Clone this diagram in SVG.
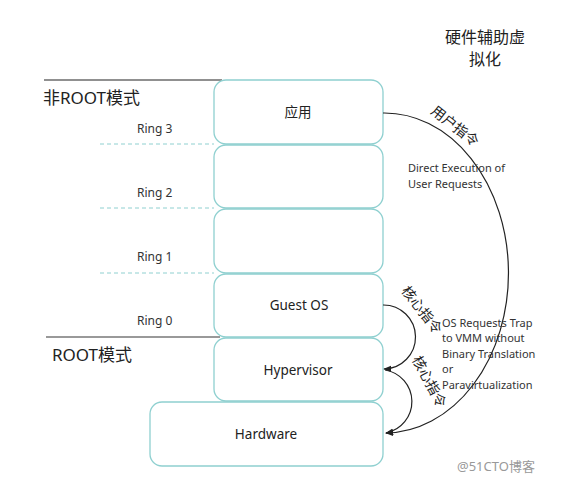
<svg xmlns="http://www.w3.org/2000/svg" width="565" height="484" viewBox="0 0 565 484">
<defs>
<style>
.box{fill:#fff;stroke:#8fd0d0;stroke-width:1.3}
.t{font-family:"Noto Sans","Noto Sans CJK SC",sans-serif;fill:#222}
.ring{font-size:12px;fill:#333}
.mode{font-size:17px}
.lbl{font-size:13.5px;text-anchor:middle}
.note{font-size:11px;fill:#333}
.arc{fill:none;stroke:#222;stroke-width:1.2}
.dash{stroke:#8fd0d0;stroke-width:1;stroke-dasharray:4 3}
</style>
<marker id="ah" viewBox="0 0 10 10" refX="9" refY="5" markerWidth="8" markerHeight="8" orient="auto-start-reverse" markerUnits="userSpaceOnUse">
<path d="M0,1 L10,5 L0,9 z" fill="#222"/>
</marker>
</defs>
<rect width="565" height="484" fill="#fff"/>

<g id="title">
<text class="t" x="485" y="43" font-size="16" text-anchor="middle">硬件辅助虚</text>
<text class="t" x="485" y="65" font-size="16" text-anchor="middle">拟化</text>
</g>

<g id="modes">
<line x1="44" y1="80" x2="222" y2="80" stroke="#222" stroke-width="1.2"/>
<text class="t mode" x="43" y="104">非ROOT模式</text>
<line x1="46" y1="337" x2="220" y2="337" stroke="#777" stroke-width="1.5"/>
<text class="t mode" x="52" y="361">ROOT模式</text>
</g>

<g id="rings">
<line class="dash" x1="100" y1="144" x2="214" y2="144"/>
<line class="dash" x1="100" y1="208" x2="214" y2="208"/>
<line class="dash" x1="100" y1="273" x2="214" y2="273"/>
<text class="t ring" x="137" y="133">Ring 3</text>
<text class="t ring" x="137" y="197">Ring 2</text>
<text class="t ring" x="137" y="261">Ring 1</text>
<text class="t ring" x="137" y="325">Ring 0</text>
</g>

<g id="app"><rect class="box" x="214" y="80" width="169" height="64" rx="12"/><text class="t lbl" x="298" y="117" font-size="15">应用</text></g>
<g id="ring2box"><rect class="box" x="214" y="145" width="169" height="63" rx="12"/></g>
<g id="ring1box"><rect class="box" x="214" y="209" width="169" height="64" rx="12"/></g>
<g id="guestos"><rect class="box" x="214" y="274" width="169" height="63" rx="12"/><text class="t lbl" x="299" y="310">Guest OS</text></g>
<g id="hypervisor"><rect class="box" x="214" y="338" width="169" height="63" rx="12"/><text class="t lbl" x="298" y="375">Hypervisor</text></g>
<g id="hardware"><rect class="box" x="150" y="402" width="233" height="64" rx="12"/><text class="t lbl" x="266" y="439" font-size="15.5">Hardware</text></g>

<g id="connectors">
<path class="arc" d="M383,113 A124,160 0 0 1 386,433" marker-end="url(#ah)"/>
<path class="arc" d="M383,305 A32,32 0 0 1 384,369" marker-end="url(#ah)"/>
<path class="arc" d="M385,370 A32,32 0 0 1 386,433" marker-end="url(#ah)"/>
</g>

<g id="labels">
<text class="t" font-size="14" text-anchor="middle" transform="translate(452,130) rotate(38)">用户指令</text>
<text class="t" font-size="14" text-anchor="middle" transform="translate(418,313) rotate(52)">核心指令</text>
<text class="t" font-size="14" text-anchor="middle" transform="translate(425,384) rotate(62)">核心指令</text>
<text class="t note" x="408" y="172">Direct Execution of</text>
<text class="t note" x="408" y="188">User Requests</text>
<text class="t note" x="442" y="327">OS Requests Trap</text>
<text class="t note" x="442" y="342">to VMM without</text>
<text class="t note" x="442" y="358">Binary Translation</text>
<text class="t note" x="442" y="373">or</text>
<text class="t note" x="442" y="389">Paravirtualization</text>
</g>

<g id="watermark">
<text x="457" y="471" font-family="'Noto Sans','Noto Sans CJK SC',sans-serif" font-size="13" fill="#999">@51CTO博客</text>
</g>
</svg>
